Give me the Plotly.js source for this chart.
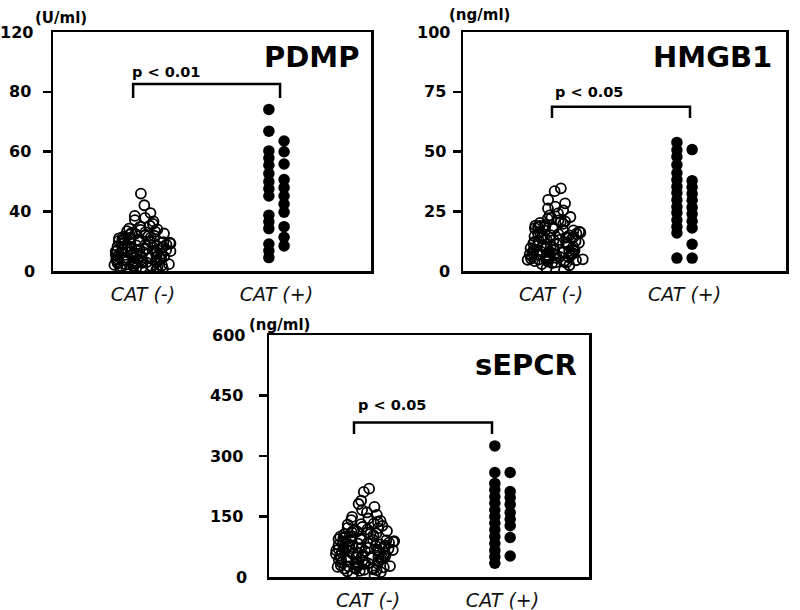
<!DOCTYPE html>
<html>
<head>
<meta charset="utf-8">
<script src="https://cdn.plot.ly/plotly-3.0.1.min.js"></script>
<style>html,body{margin:0;padding:0;background:#fff;}#chart{width:800px;height:610px;}</style>
</head>
<body>
<div id="chart"></div>
<script>
// ---- data ----
const categories = ['CAT (-)', 'CAT (+)'];

const pdmpNeg = [45.9, 42.0, 38.8, 36.9, 35.6, 34.1, 33.2, 31.5, 30.3, 29.6, 28.4, 27.8, 27.5, 26.7, 26.0, 25.6, 24.9, 24.4, 24.0, 23.3, 22.8, 22.5, 21.9, 21.2, 20.8, 20.6, 19.8, 19.4, 19.0, 18.6, 18.1, 17.7, 17.5, 16.8, 16.4, 16.1, 15.7, 15.2, 14.9, 14.5, 14.1, 13.8, 13.3, 13.0, 12.7, 12.2, 11.9, 11.6, 11.1, 10.8, 10.5, 10.1, 9.7, 9.4, 9.0, 8.7, 8.3, 8.1, 7.6, 7.2, 6.9, 6.5, 6.2, 5.8, 5.5, 5.1, 4.8, 4.6, 4.1, 3.7, 3.4, 3.0, 2.6, 2.3, 2.0, 1.6, 1.2, 0.8, 3.2, 5.3, 7.9, 9.2, 12.5, 15.5, 18.9, 22.1,
  1.9, 2.9, 4.3, 5.7, 6.8, 7.4, 8.9, 10.3, 11.4, 12.9, 13.6, 14.4, 16.6, 17.2, 19.3, 20.2, 21.6, 23.6, 25.1, 26.3, 3.6, 6.0, 9.6, 15.0, 18.4];
const pdmpPosLeft = [74.1, 66.8, 60.2, 57.8, 55.4, 52.6, 49.9, 47.5, 45.1, 37.4, 32.9, 28.4, 18.1, 13.5, 9.0];
const pdmpPosRight = [63.5, 59.9, 55.8, 50.6, 47.9, 45.1, 42.4, 39.4, 29.7, 22.6, 16.8];

const hmgbNeg = [34.6, 33.4, 29.8, 28.3, 26.9, 26.2, 25.4, 24.1, 23.3, 22.6, 21.8, 21.2, 20.5, 20.1, 19.7, 19.3, 18.9, 18.4, 18.0, 17.6, 17.2, 16.9, 16.5, 16.1, 15.8, 15.4, 15.0, 14.7, 14.3, 14.0, 13.6, 13.2, 12.9, 12.5, 12.2, 11.8, 11.5, 11.1, 10.8, 10.4, 10.1, 9.8, 9.4, 9.1, 8.7, 8.4, 8.0, 7.7, 7.4, 7.0, 6.7, 6.4, 6.0, 5.7, 5.4, 5.1, 4.8, 4.5, 4.2, 3.9, 3.6, 3.3, 2.4, 1.1, 0.4, 19.0, 17.9, 16.3, 14.5, 12.7, 10.6, 8.9, 7.2, 5.9, 4.4, 3.8, 5.2, 6.6,
  2.9, 3.5, 4.1, 4.7, 5.5, 6.2, 6.9, 7.6, 8.2, 9.0, 9.6, 10.3, 11.3, 12.0, 13.0, 13.8, 14.9, 15.6, 17.0, 18.6, 20.8, 22.2, 4.9, 6.8, 8.6];
const hmgbPosLeft = [53.8, 50.6, 47.8, 44.4, 41.0, 38.1, 35.3, 32.6, 29.7, 26.9, 24.3, 21.3, 18.5, 15.9, 5.4];
const hmgbPosRight = [50.8, 37.8, 35.0, 32.3, 29.6, 26.6, 23.8, 20.8, 18.0, 11.2, 5.4];

const sepcrNeg = [219, 211, 189, 181, 174, 166, 160, 154, 149, 145, 141, 137, 133, 130, 127, 124, 121, 118, 116, 113, 111, 108, 106, 104, 101, 99, 97, 95, 93, 91, 89, 87, 85, 83, 81, 79, 77, 75, 73, 71, 69, 67, 65, 63, 61, 59, 57, 55, 53, 51, 49, 47, 45, 43, 41, 39, 37, 35, 33, 31, 29, 27, 25, 23, 21, 19, 17, 15, 12, 8, 4, 98, 92, 86, 78, 72, 66, 60, 54, 48, 110, 84, 70, 62, 58, 52, 44, 36, 28, 22, 18,
  14, 20, 26, 32, 38, 42, 46, 50, 56, 64, 68, 74, 80, 88, 94, 100, 107, 114, 122, 131, 139, 24, 34, 76, 90];
const sepcrPosLeft = [325, 259, 232, 216, 199, 183, 166, 150, 133, 117, 100, 83, 66, 50, 34];
const sepcrPosRight = [259, 212, 197, 180, 160, 143, 127, 98, 52];

const pdmpTickLabels = ['0', '40', '60', '80', '120'];
const hmgbTickLabels = ['0', '25', '50', '75', '100'];
const sepcrTickLabels = ['0', '150', '300', '450', '600'];

// The PDMP axis in the reference is evenly spaced at 0,40,60,80,120
const pdmpTickValues = [0, 40, 60, 80, 120];
function pdmpScale(v) {
  // piecewise-linear map of PDMP values onto the evenly spaced tick positions
  for (let i = 1; i < pdmpTickValues.length; i++) {
    const a = pdmpTickValues[i - 1], b = pdmpTickValues[i];
    if (v <= b || i === pdmpTickValues.length - 1) return (i - 1) + (v - a) / (b - a);
  }
}

// ---- traces ----
const FONT = 'DejaVu Sans, Arial, sans-serif';
function rep(cat, arr) { return arr.map(() => cat); }
function negTrace(vals, xa, ya, w, pp) {
  return {
    type: 'box', x: rep(categories[0], vals), y: vals, xaxis: xa, yaxis: ya,
    boxpoints: 'all', jitter: 1, pointpos: pp, width: w,
    fillcolor: 'rgba(0,0,0,0)', line: {width: 0, color: 'rgba(0,0,0,0)'},
    marker: {symbol: 'circle-open', size: 10, color: '#000', line: {width: 1.8, color: '#000'}},
    hoverinfo: 'y', showlegend: false
  };
}
function posTrace(vals, xa, ya, pp) {
  return {
    type: 'box', x: rep(categories[1], vals), y: vals, xaxis: xa, yaxis: ya,
    boxpoints: 'all', jitter: 0, pointpos: pp, width: 0.12,
    fillcolor: 'rgba(0,0,0,0)', line: {width: 0, color: 'rgba(0,0,0,0)'},
    marker: {symbol: 'circle', size: 11.5, color: '#000'},
    hoverinfo: 'y', showlegend: false
  };
}

const data = [
  negTrace(pdmpNeg.map(pdmpScale), 'x', 'y', 0.46, 0),
  posTrace(pdmpPosLeft.map(pdmpScale), 'x', 'y', -0.95),
  posTrace(pdmpPosRight.map(pdmpScale), 'x', 'y', 0.95),
  negTrace(hmgbNeg, 'x2', 'y2', 0.46, 0.18),
  posTrace(hmgbPosLeft, 'x2', 'y2', -0.95),
  posTrace(hmgbPosRight, 'x2', 'y2', 0.95),
  negTrace(sepcrNeg, 'x3', 'y3', 0.44, -0.1),
  posTrace(sepcrPosLeft, 'x3', 'y3', -0.95),
  posTrace(sepcrPosRight, 'x3', 'y3', 0.95)
];

// ---- layout ----
function xax(domain, range, anchor) {
  return {
    domain: domain, range: range, anchor: anchor, type: 'category',
    categoryorder: 'array', categoryarray: categories,
    showline: true, mirror: true, linecolor: '#000', linewidth: 2.5,
    ticks: '', showgrid: false, zeroline: false, ticklabelstandoff: 5,
    tickfont: {family: FONT, size: 19, color: '#111', style: 'italic'}
  };
}
function yax(domain, range, anchor, tickvals, ticktext, standoff) {
  return {
    domain: domain, range: range, anchor: anchor,
    showline: true, mirror: true, linecolor: '#000', linewidth: 2.5,
    ticks: 'outside', ticklen: 8, tickwidth: 2.5, tickcolor: '#000',
    tickmode: 'array', tickvals: tickvals, ticktext: ticktext,
    ticklabelstandoff: standoff,
    showgrid: false, zeroline: false,
    tickfont: {family: FONT, size: 16, color: '#000', weight: 'bold'}
  };
}

const layout = {
  width: 800, height: 610,
  margin: {l: 0, r: 0, t: 0, b: 0},
  paper_bgcolor: '#fff', plot_bgcolor: '#fff',
  showlegend: false, boxmode: 'overlay',
  xaxis: xax([53 / 800, 371 / 800], [-0.674, 1.708], 'y'),
  yaxis: yax([1 - 271 / 610, 1 - 32 / 610], [0, 4], 'x', [1, 2, 3], pdmpTickLabels.slice(1, 4), 8),
  xaxis2: xax([463 / 800, 786 / 800], [-0.659, 1.760], 'y2'),
  yaxis2: yax([1 - 271 / 610, 1 - 32 / 610], [0, 100], 'x2', [25, 50, 75], hmgbTickLabels.slice(1, 4), 3),
  xaxis3: xax([269 / 800, 589 / 800], [-0.736, 1.643], 'y3'),
  yaxis3: yax([1 - 577 / 610, 1 - 335 / 610], [0, 600], 'x3', [150, 300, 450], sepcrTickLabels.slice(1, 4), 12),
  shapes: [],
  annotations: []
};

function bracket(xs, ys, x0, x1, ytop, ylow) {
  layout.shapes.push({
    type: 'path', xref: xs, yref: ys,
    path: `M ${x0},${ylow} L ${x0},${ytop} L ${x1},${ytop} L ${x1},${ylow}`,
    line: {color: '#000', width: 2.5}
  });
}
function ann(o) {
  layout.annotations.push(Object.assign({showarrow: false, font: {family: FONT, size: 16, color: '#000', weight: 'bold'}}, o));
}

// brackets + p values
const PFONT = {family: FONT, size: 14.5, color: '#000', weight: 'bold'};
bracket('x domain', 'y domain', 0.252, 0.714, 0.782, 0.724);
bracket('x2 domain', 'y2 domain', 0.2755, 0.7028, 0.687, 0.640);
bracket('x3 domain', 'y3 domain', 0.2656, 0.6969, 0.638, 0.591);
ann({xref: 'x domain', yref: 'y domain', x: 0.242, y: 0.833, xanchor: 'left', yanchor: 'middle', text: 'p < 0.01', font: PFONT});
ann({xref: 'x2 domain', yref: 'y2 domain', x: 0.279, y: 0.749, xanchor: 'left', yanchor: 'middle', text: 'p < 0.05', font: PFONT});
ann({xref: 'x3 domain', yref: 'y3 domain', x: 0.271, y: 0.711, xanchor: 'left', yanchor: 'middle', text: 'p < 0.05', font: PFONT});

// panel titles
const TFONT = {family: FONT, size: 29, color: '#000', weight: 'bold'};
ann({xref: 'x domain', yref: 'y domain', x: 0.968, y: 0.895, xanchor: 'right', yanchor: 'middle', text: 'PDMP', font: TFONT});
ann({xref: 'x2 domain', yref: 'y2 domain', x: 0.962, y: 0.895, xanchor: 'right', yanchor: 'middle', text: 'HMGB1', font: TFONT});
ann({xref: 'x3 domain', yref: 'y3 domain', x: 0.968, y: 0.876, xanchor: 'right', yanchor: 'middle', text: 'sEPCR', font: TFONT});

// end tick labels (no tick marks at the box corners in the reference)
ann({xref: 'x domain', yref: 'y domain', x: 0, y: 0, xanchor: 'right', yanchor: 'middle', xshift: -16, text: pdmpTickLabels[0]});
ann({xref: 'x domain', yref: 'y domain', x: 0, y: 1, xanchor: 'right', yanchor: 'middle', xshift: -18, text: pdmpTickLabels[4]});
ann({xref: 'x2 domain', yref: 'y2 domain', x: 0, y: 0, xanchor: 'right', yanchor: 'middle', xshift: -11, text: hmgbTickLabels[0]});
ann({xref: 'x2 domain', yref: 'y2 domain', x: 0, y: 1, xanchor: 'right', yanchor: 'middle', xshift: -11, text: hmgbTickLabels[4]});
ann({xref: 'x3 domain', yref: 'y3 domain', x: 0, y: 0, xanchor: 'right', yanchor: 'middle', xshift: -20, text: sepcrTickLabels[0]});
ann({xref: 'x3 domain', yref: 'y3 domain', x: 0, y: 1, xanchor: 'right', yanchor: 'middle', xshift: -22, text: sepcrTickLabels[4]});

// units
const UFONT = {family: FONT, size: 15, color: '#000', weight: 'bold'};
ann({xref: 'paper', yref: 'paper', x: 33 / 800, y: 1 - 18 / 610, xanchor: 'left', yanchor: 'middle', text: '(U/ml)', font: UFONT});
ann({xref: 'paper', yref: 'paper', x: 447 / 800, y: 1 - 15 / 610, xanchor: 'left', yanchor: 'middle', text: '(ng/ml)', font: UFONT});
ann({xref: 'paper', yref: 'paper', x: 247 / 800, y: 1 - 325 / 610, xanchor: 'left', yanchor: 'middle', text: '(ng/ml)', font: UFONT});

Plotly.newPlot('chart', data, layout, {displayModeBar: false, staticPlot: true});
</script>
</body>
</html>
